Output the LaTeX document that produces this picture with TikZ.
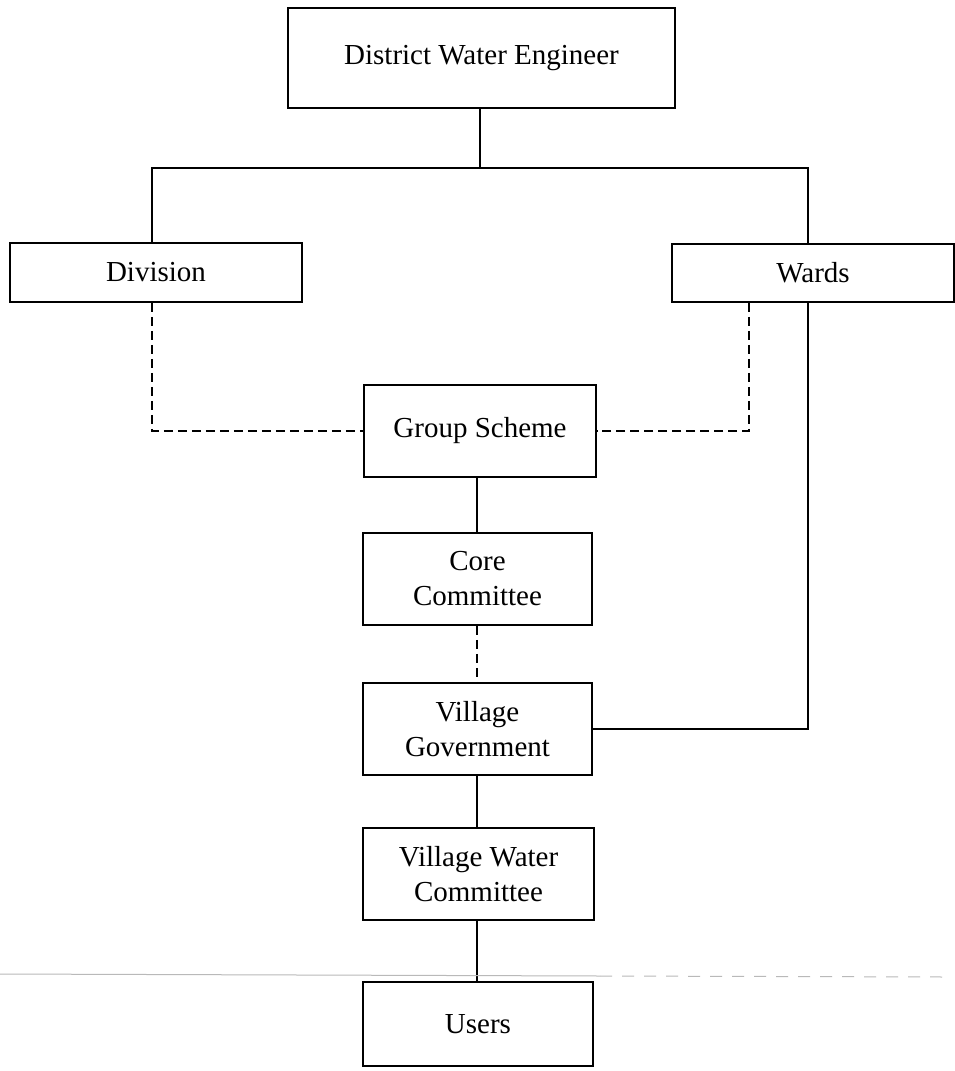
\documentclass[tikz,border=0pt]{standalone}
\usepackage{fontspec}
\setmainfont{Liberation Serif}
\begin{document}
\begin{tikzpicture}[x=1pt,y=-1pt,
  box/.style={draw, line width=1.8pt, rectangle, inner sep=0pt, align=center,
    font=\fontsize{29}{35}\selectfont},
  conn/.style={line width=1.6pt},
  dconn/.style={line width=1.6pt, dash pattern=on 9pt off 5pt},
  scan/.style={gray!55, line width=1pt}]
\useasboundingbox (0,0) rectangle (955,1071);
\fill[white] (0,0) rectangle (955,1071);
\node[box, minimum width=387pt, minimum height=100pt] (dwe) at (481.5,58) {District Water Engineer};
\node[box, minimum width=292pt, minimum height=59pt] (div) at (156,272.5) {Division};
\node[box, minimum width=282pt, minimum height=58pt] (wards) at (813,273) {Wards};
\node[box, minimum width=232pt, minimum height=92pt] (gs) at (480,431) {Group Scheme};
\node[box, minimum width=229pt, minimum height=92pt] (cc) at (477.5,579) {Core\\Committee};
\node[box, minimum width=229pt, minimum height=92pt] (vg) at (477.5,729) {Village\\Government};
\node[box, minimum width=231pt, minimum height=92pt] (vwc) at (478.5,874) {Village Water\\Committee};
\node[box, minimum width=230pt, minimum height=84pt] (users) at (478,1024) {Users};
\coordinate (bl) at (152,168);
\coordinate (br) at (808,168);
\coordinate (dr) at (749,431);
% solid tree
\draw[conn] (dwe.south -| 480,0) -- (480,168);
\draw[conn] (div.north -| bl) -- (bl) -- (br) -- (wards.north -| br);
% dashed links to group scheme
\draw[dconn] (div.south -| bl) -- (bl |- gs.west) -- (gs.west);
\draw[dconn] (wards.south -| dr) -- (dr) -- (gs.east);
% wards to village government
\draw[conn] (wards.south -| br) -- (br |- vg.east) -- (vg.east);
% vertical chain
\draw[conn] (gs.south -| 477,0) -- (cc.north -| 477,0);
\draw[dconn] (cc.south -| 477,0) -- (vg.north -| 477,0);
\draw[conn] (vg.south -| 477,0) -- (vwc.north -| 477,0);
\draw[conn] (vwc.south -| 477,0) -- (users.north -| 477,0);
% scan fold line
\draw[scan] (0,974) -- (600,976);
\draw[scan, dash pattern=on 12pt off 10pt] (600,976) -- (945,977);
\end{tikzpicture}
\end{document}
